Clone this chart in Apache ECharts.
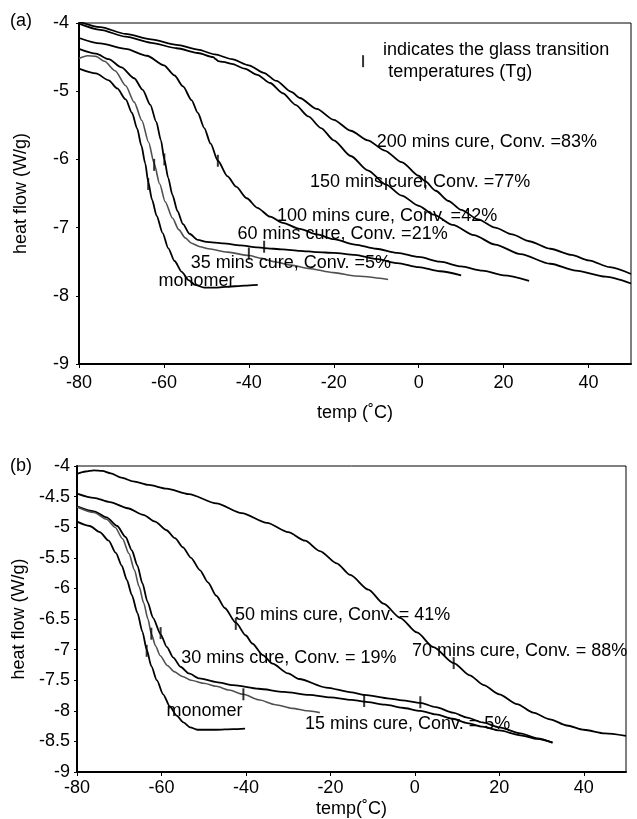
<!DOCTYPE html>
<html>
<head>
<meta charset="utf-8">
<script src="https://cdn.jsdelivr.net/npm/echarts@6/dist/echarts.min.js"></script>
<style>
html,body{margin:0;padding:0;background:#fff;}
#c{width:637px;height:819px;}
</style>
</head>
<body>
<div id="c"></div>
<script>
// ---------- Panel (a) data: [temp (°C), heat flow (W/g)] ----------
const a200 = [[-80,-3.98],[-75,-4.06],[-69,-4.16],[-63,-4.24],[-57,-4.32],[-52,-4.39],[-48,-4.46],[-44,-4.53],[-40,-4.62],[-36.5,-4.73],[-33.5,-4.85],[-30,-5.01],[-28,-5.10],[-24,-5.26],[-20,-5.42],[-16,-5.58],[-12,-5.72],[-8,-5.87],[-4,-6.04],[0,-6.24],[1.5,-6.32],[4,-6.46],[7,-6.61],[10,-6.74],[14,-6.88],[18,-7.00],[22,-7.10],[26,-7.20],[31,-7.31],[36,-7.40],[40,-7.48],[45,-7.58],[50,-7.68]];
const a150 = [[-80,-4.01],[-75,-4.10],[-69,-4.20],[-63,-4.29],[-57,-4.37],[-52,-4.44],[-48.4,-4.50],[-47.8,-4.53],[-47.2,-4.56],[-46,-4.57],[-44,-4.60],[-41,-4.67],[-38,-4.76],[-35,-4.88],[-32,-5.03],[-29,-5.20],[-26,-5.37],[-23,-5.54],[-20,-5.72],[-16,-5.95],[-12,-6.16],[-7.7,-6.37],[-4,-6.53],[0,-6.68],[3.5,-6.81],[8,-6.96],[13,-7.11],[18,-7.25],[24,-7.39],[31,-7.53],[37,-7.63],[44,-7.72],[50,-7.82]];
const a100 = [[-80,-4.22],[-75,-4.30],[-69,-4.38],[-64,-4.48],[-60,-4.62],[-57.5,-4.77],[-55.5,-4.93],[-53.5,-5.13],[-52,-5.32],[-50.5,-5.54],[-49,-5.77],[-47.3,-6.02],[-45,-6.25],[-43,-6.40],[-40.5,-6.57],[-38,-6.71],[-35,-6.84],[-32,-6.93],[-28,-7.02],[-24,-7.10],[-20,-7.17],[-15,-7.25],[-10,-7.31],[-5,-7.37],[0,-7.43],[5,-7.50],[10,-7.57],[15,-7.63],[20,-7.70],[26,-7.78]];
const a60 = [[-80,-4.38],[-76,-4.45],[-73,-4.53],[-70,-4.65],[-67,-4.81],[-65,-4.98],[-63.2,-5.20],[-61.8,-5.45],[-60.7,-5.72],[-59.9,-6.0],[-59,-6.27],[-58,-6.52],[-56.8,-6.76],[-55.5,-6.95],[-54,-7.09],[-52,-7.18],[-50,-7.21],[-46,-7.23],[-42,-7.26],[-38,-7.29],[-36.4,-7.30],[-32,-7.32],[-28,-7.34],[-24,-7.36],[-20,-7.37],[-15,-7.40],[-10,-7.46],[-5,-7.52],[0,-7.58],[5,-7.64],[10,-7.70]];
const a35 = [[-80,-4.52],[-78,-4.48],[-76,-4.49],[-74,-4.56],[-71.5,-4.70],[-69,-4.92],[-67,-5.16],[-65.2,-5.43],[-63.6,-5.75],[-62.3,-6.06],[-61,-6.36],[-59.7,-6.62],[-58,-6.86],[-56.5,-7.03],[-55,-7.15],[-53.5,-7.23],[-51.5,-7.28],[-49.5,-7.31],[-45,-7.36],[-40,-7.41],[-37,-7.45],[-34,-7.50],[-30,-7.55],[-26,-7.60],[-20,-7.66],[-15,-7.71],[-7.2,-7.76]];
const aMono = [[-80,-4.67],[-76,-4.74],[-73,-4.84],[-71,-4.96],[-69,-5.12],[-67.5,-5.32],[-66.3,-5.55],[-65.3,-5.80],[-64.4,-6.06],[-63.7,-6.33],[-62.8,-6.59],[-61.7,-6.83],[-60.3,-7.08],[-59,-7.30],[-57.5,-7.49],[-55.8,-7.65],[-54.2,-7.77],[-52.7,-7.84],[-50.5,-7.88],[-48,-7.88],[-45.6,-7.87],[-41,-7.85],[-37.9,-7.84]];
// Tg marks (a)
const aTgBlack = [[-63.7,-6.36],[-59.9,-6.0],[-36.4,-7.28],[-47.3,-6.02],[-7.7,-6.36],[1.5,-6.33],[-13.1,-4.56]];
const aTgGray = [[-62.3,-6.08],[-40.0,-7.38]];
// Labels (a): [temp, heat flow, text]
const aLabels = [
  [-9.9,-5.74,'200 mins cure, Conv. =83%'],
  [-25.6,-6.33,'150 mins cure, Conv. =77%'],
  [-33.4,-6.83,'100 mins cure, Conv. =42%'],
  [-42.7,-7.10,'60 mins cure, Conv. =21%'],
  [-53.7,-7.52,'35 mins cure, Conv. =5%'],
  [-61.3,-7.79,'monomer'],
  [-8.4,-4.40,'indicates the glass transition'],
  [-7.2,-4.72,'temperatures (Tg)']
];

// ---------- Panel (b) data ----------
const b70 = [[-80,-4.13],[-78,-4.09],[-76,-4.07],[-74,-4.08],[-72,-4.12],[-69.5,-4.19],[-66.7,-4.25],[-63,-4.31],[-58.8,-4.37],[-53.5,-4.46],[-47,-4.61],[-41,-4.77],[-35,-4.93],[-30,-5.08],[-26,-5.22],[-22.5,-5.39],[-18.5,-5.59],[-15.3,-5.78],[-11,-6.02],[-7.4,-6.25],[-3.5,-6.48],[0.5,-6.72],[4.4,-6.96],[9.2,-7.22],[13,-7.42],[16.3,-7.58],[20,-7.73],[24.2,-7.89],[28,-8.03],[32,-8.14],[36,-8.24],[40,-8.31],[45,-8.37],[50,-8.41]];
const b50 = [[-80,-4.45],[-76,-4.52],[-72.2,-4.59],[-68,-4.69],[-64.3,-4.80],[-61.5,-4.91],[-58.8,-5.05],[-56.8,-5.18],[-54.9,-5.33],[-53,-5.50],[-50.9,-5.70],[-49,-5.90],[-47,-6.12],[-45,-6.32],[-42.4,-6.56],[-40,-6.77],[-38.5,-6.90],[-36,-7.09],[-33.7,-7.23],[-30,-7.39],[-27.4,-7.48],[-21,-7.62],[-15,-7.70],[-12,-7.74],[-6,-7.80],[-3,-7.83],[1.3,-7.87],[5,-7.94],[9,-8.03],[12.4,-8.11],[16,-8.19],[20,-8.27],[25,-8.37],[29,-8.45],[32.6,-8.52]];
const b30 = [[-80,-4.66],[-76,-4.74],[-73,-4.84],[-70.5,-4.98],[-68.5,-5.16],[-67,-5.38],[-65.7,-5.63],[-64.5,-5.92],[-63.3,-6.22],[-62,-6.48],[-60.2,-6.75],[-58.7,-6.96],[-57.2,-7.13],[-55.5,-7.28],[-53.5,-7.39],[-51,-7.47],[-47,-7.53],[-43,-7.58],[-37,-7.64],[-31,-7.69],[-25,-7.74],[-20,-7.78],[-15,-7.82],[-12,-7.85],[-7,-7.90],[-3,-7.95],[1.3,-8.00],[5,-8.06],[9,-8.13],[12.4,-8.20],[16,-8.26],[20,-8.32],[25,-8.40],[29,-8.46],[32.6,-8.52]];
const b15 = [[-80,-4.67],[-76,-4.76],[-73,-4.87],[-71,-5.00],[-69.2,-5.19],[-67.7,-5.43],[-66.4,-5.70],[-65.3,-5.97],[-64.2,-6.24],[-63.2,-6.50],[-62.4,-6.74],[-61.4,-6.94],[-60.3,-7.10],[-58.6,-7.26],[-57,-7.36],[-55,-7.44],[-53,-7.50],[-50,-7.55],[-47,-7.60],[-44,-7.66],[-40.6,-7.73],[-37,-7.82],[-33,-7.90],[-29,-7.96],[-25.5,-8.00],[-22.5,-8.03]];
const bMono = [[-80,-4.91],[-77,-4.98],[-74.6,-5.08],[-72.5,-5.22],[-70.8,-5.42],[-69.4,-5.63],[-68.2,-5.86],[-67,-6.11],[-65.7,-6.40],[-64.5,-6.71],[-63.5,-7.00],[-62.4,-7.27],[-61.1,-7.50],[-59.6,-7.73],[-58,-7.93],[-56.4,-8.08],[-54.8,-8.19],[-53.2,-8.27],[-51.5,-8.31],[-47,-8.31],[-43,-8.30],[-40.2,-8.29]];
const bTgBlack = [[-63.5,-7.02],[-60.2,-6.73],[-12.0,-7.84],[-42.4,-6.58],[1.3,-7.86],[9.2,-7.22]];
const bTgGray = [[-62.4,-6.74],[-40.6,-7.73]];
const bLabels = [
  [-42.6,-6.44,'50 mins cure, Conv. = 41%'],
  [-55.3,-7.14,'30 mins cure, Conv. = 19%'],
  [-0.7,-7.02,'70 mins cure, Conv. = 88%'],
  [-26.0,-8.21,'15 mins cure, Conv. = 5%'],
  [-58.8,-8.00,'monomer']
];

// axis settings
const xTicks = {min:-80, max:50, interval:20};
const yTicksA = {min:-9, max:-4, interval:1};
const yTicksB = {min:-9, max:-4, interval:0.5};

const FONT = '"Liberation Sans", Arial, sans-serif';
const FS = 18;

function lineSeries(data, idx, color, w) {
  return {type:'line', xAxisIndex:idx, yAxisIndex:idx, data:data, showSymbol:false, symbol:'none',
    smooth:0.25, smoothMonotone:'x', lineStyle:{color:color, width:w}, z:2, silent:true};
}
function tgSeries(data, idx, color) {
  return {type:'scatter', xAxisIndex:idx, yAxisIndex:idx, data:data, symbol:'rect', symbolSize:[2,12],
    itemStyle:{color:color}, z:3, silent:true};
}
function labelSeries(data, idx) {
  return {type:'scatter', xAxisIndex:idx, yAxisIndex:idx, data:data, symbolSize:0.01,
    itemStyle:{color:'#000', opacity:1}, z:4, silent:true,
    label:{show:true, position:'right', distance:0, formatter:p=>p.data[2], color:'#000', opacity:1,
      textBorderWidth:0, fontSize:FS, fontFamily:FONT}};
}
function xAxis(idx, name, gap, margin) {
  return {type:'value', gridIndex:idx, min:xTicks.min, max:xTicks.max, interval:xTicks.interval,
    name:name, nameLocation:'middle', nameGap:gap, nameTextStyle:{color:'#000', fontSize:FS, fontFamily:FONT},
    axisLine:{show:true, onZero:false, lineStyle:{color:'#000', width:2}},
    axisTick:{show:true, length:4, lineStyle:{color:'#000', width:1}},
    axisLabel:{color:'#000', fontSize:FS, fontFamily:FONT, margin:margin, showMaxLabel:false},
    splitLine:{show:false}};
}
function yAxis(idx, t, gap, margin) {
  return {type:'value', gridIndex:idx, min:t.min, max:t.max, interval:t.interval,
    name:'heat flow (W/g)', nameLocation:'middle', nameGap:gap, nameRotate:90,
    nameTextStyle:{color:'#000', fontSize:FS, fontFamily:FONT},
    axisLine:{show:true, onZero:false, lineStyle:{color:'#000', width:2}},
    axisTick:{show:true, length:3, lineStyle:{color:'#000', width:1}},
    axisLabel:{color:'#000', fontSize:FS, fontFamily:FONT, margin:margin},
    splitLine:{show:false}};
}

const chart = echarts.init(document.getElementById('c'), null, {renderer:'canvas'});
chart.setOption({
  animation:false,
  backgroundColor:'#fff',
  grid:[
    {left:79, top:23, width:552, height:341, show:true, borderColor:'#000', borderWidth:1},
    {left:77, top:466, width:549, height:307, show:true, borderColor:'#000', borderWidth:1}
  ],
  xAxis:[xAxis(0,'temp (˚C)',40,10), xAxis(1,'temp(˚C)',28,7)],
  yAxis:[yAxis(0,yTicksA,49,10), yAxis(1,yTicksB,47,7)],
  graphic:[
    {type:'text', left:10, top:12, style:{text:'(a)', fill:'#000', font:'18px '+FONT}},
    {type:'text', left:10, top:457, style:{text:'(b)', fill:'#000', font:'18px '+FONT}}
  ],
  series:[
    lineSeries(a200,0,'#000',1.8),
    lineSeries(a150,0,'#000',1.8),
    lineSeries(a100,0,'#000',1.8),
    lineSeries(a60,0,'#000',1.8),
    lineSeries(a35,0,'#505050',1.6),
    lineSeries(aMono,0,'#000',1.8),
    tgSeries(aTgBlack,0,'#000'),
    tgSeries(aTgGray,0,'#000'),
    labelSeries(aLabels,0),
    lineSeries(b70,1,'#000',1.8),
    lineSeries(b50,1,'#000',1.8),
    lineSeries(b30,1,'#000',1.8),
    lineSeries(b15,1,'#505050',1.6),
    lineSeries(bMono,1,'#000',1.8),
    tgSeries(bTgBlack,1,'#000'),
    tgSeries(bTgGray,1,'#000'),
    labelSeries(bLabels,1)
  ]
});
</script>
</body>
</html>
